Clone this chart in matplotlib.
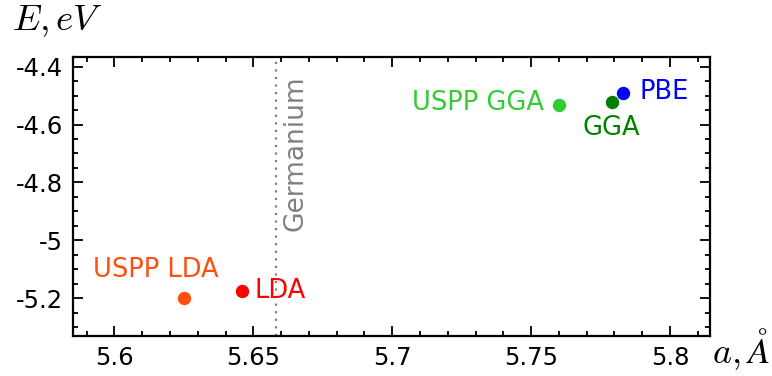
import matplotlib
matplotlib.use('Agg')
import matplotlib.pyplot as plt
from matplotlib.ticker import MultipleLocator, FormatStrFormatter

# data: lattice constant (A) and energy (eV)
names = ['USPP LDA', 'LDA', 'USPP GGA', 'GGA', 'PBE']
a_vals = [5.625, 5.646, 5.760, 5.779, 5.783]
e_vals = [-5.198, -5.175, -4.533, -4.521, -4.4925]
colors = ['#ff4f0f', 'red', 'limegreen', 'green', 'blue']
ge_a = 5.658

# where each label sits relative to its dot (points)
offsets = [(-20, 20, 'center'), (9, 0, 'left'), (-11, 1.5, 'right'),
           (0, -19, 'center'), (12, 1, 'left')]

plt.rcParams['axes.unicode_minus'] = False
plt.rcParams['mathtext.fontset'] = 'cm'

fig = plt.figure(figsize=(7.72, 3.76), dpi=100)
ax = fig.add_axes([0.0946, 0.1064, 0.8251, 0.7412])

ax.axvline(ge_a, color='gray', ls=(0, (1, 2.4)), lw=1.6)
ax.annotate('Germanium', xy=(ge_a, 1), xycoords=('data', 'axes fraction'),
            xytext=(14.5, -13), textcoords='offset points', rotation=90,
            ha='center', va='top', color='gray', fontsize=19)

for name, x, y, c, (dx, dy, ha) in zip(names, a_vals, e_vals, colors, offsets):
    ax.plot(x, y, 'o', color=c, ms=8.6)
    ax.annotate(name, xy=(x, y), xytext=(dx, dy), textcoords='offset points',
                ha=ha, va='center', color=c, fontsize=18.5)

ax.set_xlim(5.5851, 5.8144)
ax.set_ylim(-5.33, -4.368)
ax.xaxis.set_major_locator(MultipleLocator(0.05))
ax.xaxis.set_minor_locator(MultipleLocator(0.01))
ax.yaxis.set_major_locator(MultipleLocator(0.2))
ax.yaxis.set_minor_locator(MultipleLocator(0.05))
ax.xaxis.set_major_formatter(FormatStrFormatter('%g'))
ax.yaxis.set_major_formatter(FormatStrFormatter('%g'))

ax.tick_params(which='both', direction='in', top=True, right=True, width=1.3)
ax.tick_params(which='major', length=7, labelsize=17.5, pad=7)
ax.tick_params(which='minor', length=3.5)
for s in ax.spines.values():
    s.set_linewidth(1.6)

fig.text(0.015, 0.945, r'$E, eV$', fontsize=26.5, va='center', ha='left')
fig.text(0.922, 0.072, r'$a, \AA$', fontsize=26, va='center', ha='left')

fig.savefig('out.png', dpi=100)
